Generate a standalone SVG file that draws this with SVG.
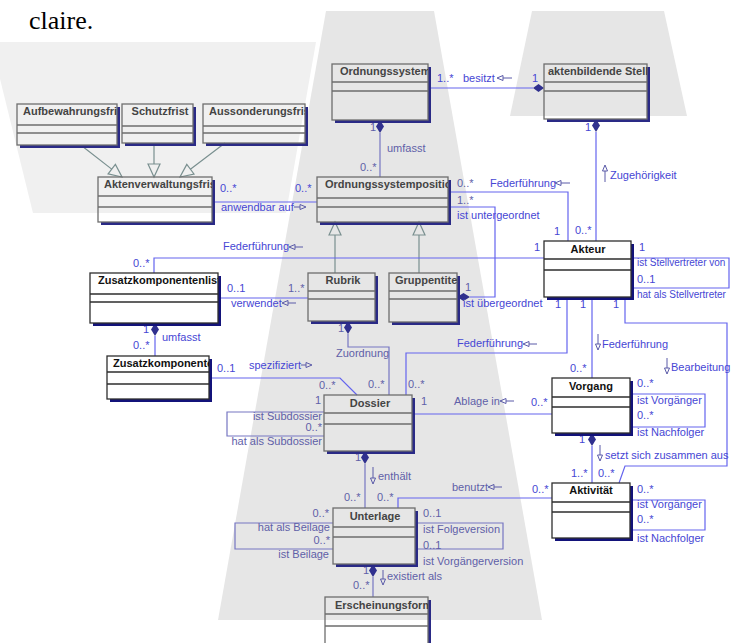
<svg xmlns="http://www.w3.org/2000/svg" width="731" height="643" viewBox="0 0 731 643">
<style>
.bx{fill:none;stroke:#2e2e2e;stroke-width:1.3}
.bx.d{stroke:#6e6e6e}
.sh{fill:#13137a}
.sh.d{fill:#2a2a86}
.hd{font:bold 11px "Liberation Sans",Arial,sans-serif;fill:#111}
.hd.d{fill:#444}
.ln{fill:none;stroke:#6464ee;stroke-width:1.2}
.ln.d{stroke:#7676c2}
.lb{font:11px "Liberation Sans",Arial,sans-serif;fill:#4646d4}
.lb.d{fill:#5f5fa8}
.lb.s{font-size:10px}
.dm{fill:#30308e}
.gn{fill:none;stroke:#7a9090;stroke-width:1.2}
.nv{fill:none;stroke:#5a5aa8;stroke-width:1}
</style>
<defs>
<clipPath id="c1"><rect x="17" y="104" width="100" height="41"/></clipPath>
<clipPath id="c3"><rect x="203" y="104" width="102" height="39"/></clipPath>
<clipPath id="c4"><rect x="98" y="177" width="114" height="45"/></clipPath>
<clipPath id="c5"><rect x="332" y="64" width="96" height="56"/></clipPath>
<clipPath id="c6"><rect x="544" y="64" width="103" height="55"/></clipPath>
<clipPath id="c7"><rect x="317" y="177" width="131" height="45"/></clipPath>
<clipPath id="c9"><rect x="90" y="273" width="128" height="50"/></clipPath>
<clipPath id="c11"><rect x="389" y="273" width="68" height="49"/></clipPath>
<clipPath id="c12"><rect x="107" y="356" width="102" height="43"/></clipPath>
<clipPath id="c17"><rect x="325" y="597" width="103" height="52"/></clipPath>
</defs>
<rect width="731" height="643" fill="#fff"/>
<g id="background">
<polygon points="-9,42 316,42 286,213 33,213" fill="#f0f0f0"/>
<polygon points="326,11 434,11 542,620 218,620" fill="#e6e6e6"/>
<polygon points="532,11 664,11 687,116 510,116" fill="#e6e6e6"/>
<text x="29" y="29" font-family="Liberation Serif, Times New Roman, serif" font-size="26" fill="#000">claire.</text>
</g>

<g id="connectors">
<path class="gn" d="M82,146 L111.7,169.1 M108.1,173.9 L122,177 L115.4,164.4 Z"/>
<path class="gn" d="M154,143 V164 M148,164 L154,177 L160,164 Z"/>
<path class="gn" d="M225,143 L190.4,169.2 M186.8,164.4 L180,177 L194,174 Z"/>
<path class="gn" d="M335,273 V235 M329,235 L335,222 L341,235 Z"/>
<path class="gn" d="M419,273 V235 M413,235 L419,222 L425,235 Z"/>

<path class="ln" d="M428,88 H533"/>
<path class="dm" d="M533,88 L538.5,84 L544,88 L538.5,92 Z"/>
<text class="lb" x="437" y="82">1..*</text>
<text class="lb" x="463" y="82">besitzt</text>
<path class="nv" d="M503,75.5 L497,78 L503,80.5 Z M503,78 H512"/>
<text class="lb" x="532" y="82">1</text>

<path class="ln d" d="M380,133 V177"/>
<path class="dm" d="M380,120 L384,126.5 L380,133 L376,126.5 Z"/>
<text class="lb d" x="370" y="131">1</text>
<text class="lb d" x="387" y="152">umfasst</text>
<text class="lb d" x="360" y="171">0..*</text>

<path class="ln" d="M596,132 V241"/>
<path class="dm" d="M596,119 L600,125.5 L596,132 L592,125.5 Z"/>
<text class="lb" x="585" y="131">1</text>
<path class="nv" d="M605,182 V171 M602.5,171 L605,165 L607.5,171 Z"/>
<text class="lb" x="610" y="179">Zugehörigkeit</text>
<text class="lb" x="575" y="234">0..*</text>

<path class="ln" d="M448,192 H568 V241"/>
<text class="lb d" x="457" y="187">0..*</text>
<text class="lb" x="490" y="187">Federführung</text>
<path class="nv" d="M561,180.5 L555,183 L561,185.5 Z M561,183 H570"/>
<text class="lb" x="554" y="235">1</text>

<path class="ln" d="M448,207 H495 V297 H470"/>
<path class="dm" d="M457,297 L463.5,293 L470,297 L463.5,301 Z"/>
<text class="lb d" x="457" y="204">1..*</text>
<text class="lb" x="457" y="219">ist untergeordnet</text>
<text class="lb d" x="465" y="291">1</text>
<text class="lb" x="463" y="307">ist übergeordnet</text>

<path class="ln" d="M212,202 H317"/>
<text class="lb" x="220" y="192">0..*</text>
<text class="lb" x="295" y="192">0..*</text>
<text class="lb" x="221" y="211">anwendbar auf</text>
<path class="nv" d="M294,207 H300 M300,204.5 L306,207 L300,209.5 Z"/>

<path class="ln" d="M154,273 V258 H544"/>
<text class="lb" x="133" y="267">0..*</text>
<text class="lb" x="223" y="250">Federführung</text>
<path class="nv" d="M295,244.5 L289,247 L295,249.5 Z M295,247 H303"/>
<text class="lb" x="534" y="251">1</text>

<path class="ln" d="M218,298 H308"/>
<text class="lb" x="227" y="292">0..1</text>
<text class="lb d" x="288" y="292">1..*</text>
<text class="lb" x="231" y="307">verwendet</text>
<path class="nv" d="M288,300.5 L282,303 L288,305.5 Z M288,303 H296"/>

<path class="ln" d="M155,336 V356"/>
<path class="dm" d="M155,323 L159,329.5 L155,336 L151,329.5 Z"/>
<text class="lb" x="143" y="333">1</text>
<text class="lb" x="162" y="341">umfasst</text>
<text class="lb" x="133" y="349">0..*</text>

<path class="ln" d="M209,378 H340 L357,395"/>
<text class="lb" x="217" y="372">0..1</text>
<text class="lb" x="249" y="369">spezifiziert</text>
<path class="nv" d="M301,365 H306 M306,362.5 L312,365 L306,367.5 Z"/>
<text class="lb d" x="319" y="389">0..*</text>

<path class="ln d" d="M348,334 V347 H389 V395"/>
<path class="dm" d="M348,321 L352,327.5 L348,334 L344,327.5 Z"/>
<text class="lb d" x="338" y="332">1</text>
<text class="lb d" x="336" y="357">Zuordnung</text>
<text class="lb d" x="368" y="388">0..*</text>

<path class="ln" d="M406,395 V353 H567 V297"/>
<text class="lb" x="457" y="347">Federführung</text>
<path class="nv" d="M529,341.5 L523,344 L529,346.5 Z M529,344 H537"/>
<text class="lb d" x="408" y="388">0..*</text>
<text class="lb" x="555" y="308">1</text>

<path class="ln" d="M592,297 V378"/>
<text class="lb" x="580" y="308">1</text>
<path class="nv" d="M598,334 V344 M595.5,344 L598,350 L600.5,344 Z"/>
<text class="lb" x="602" y="348">Federführung</text>
<text class="lb" x="570" y="372">0..*</text>

<path class="ln" d="M625,297 V323 H727 V466 H625 L619,483"/>
<text class="lb" x="613" y="308">1</text>
<path class="nv" d="M667,358 V368 M664.5,368 L667,374 L669.5,368 Z"/>
<text class="lb" x="671" y="371">Bearbeitung</text>
<text class="lb" x="598" y="477">0..*</text>

<path class="ln" d="M631,258 H729 V288 H631"/>
<text class="lb" x="639" y="251">1</text>
<text class="lb s" x="637" y="266">ist Stellvertreter von</text>
<text class="lb" x="637" y="283">0..1</text>
<text class="lb s" x="637" y="298">hat als Stellvertreter</text>

<path class="ln d" d="M324,412 H227 V436 H324"/>
<text class="lb d" x="315" y="404">1</text>
<text class="lb d" x="322" y="420" text-anchor="end">ist Subdossier</text>
<text class="lb d" x="322" y="431" text-anchor="end">0..*</text>
<text class="lb d" x="322" y="445" text-anchor="end">hat als Subdossier</text>

<path class="ln" d="M412,414 H552"/>
<text class="lb d" x="421" y="405">1</text>
<text class="lb d" x="454" y="405">Ablage in</text>
<path class="nv" d="M506,398.5 L500,401 L506,403.5 Z M506,401 H514"/>
<text class="lb" x="531" y="406">0..*</text>

<path class="ln" d="M630,394 H705 V427 H630"/>
<text class="lb" x="637" y="387">0..*</text>
<text class="lb" x="637" y="404">ist Vorgänger</text>
<text class="lb" x="637" y="419">0..*</text>
<text class="lb" x="637" y="436">ist Nachfolger</text>

<path class="ln" d="M592,446 V483"/>
<path class="dm" d="M592,433 L596,439.5 L592,446 L588,439.5 Z"/>
<text class="lb" x="579" y="443">1</text>
<path class="nv" d="M600,445 V455 M597.5,455 L600,461 L602.5,455 Z"/>
<text class="lb" x="605" y="459">setzt sich zusammen aus</text>
<text class="lb" x="571" y="477">1..*</text>

<path class="ln" d="M630,500 H705 V530 H630"/>
<text class="lb" x="637" y="493">0..*</text>
<text class="lb" x="637" y="508">ist Vorgänger</text>
<text class="lb" x="637" y="523">0..*</text>
<text class="lb" x="637" y="542">ist Nachfolger</text>

<path class="ln" d="M552,498 H398 V508"/>
<text class="lb d" x="452" y="491">benutzt</text>
<path class="nv" d="M494,484.5 L488,487 L494,489.5 Z M494,487 H502"/>
<text class="lb" x="532" y="493">0..*</text>
<text class="lb d" x="377" y="501">0..*</text>

<path class="ln d" d="M365,464 V508"/>
<path class="dm" d="M365,451 L369,457.5 L365,464 L361,457.5 Z"/>
<text class="lb d" x="355" y="461">1</text>
<path class="nv" d="M373,467 V478 M370.5,478 L373,484 L375.5,478 Z"/>
<text class="lb d" x="378" y="480">enthält</text>
<text class="lb d" x="344" y="501">0..*</text>

<path class="ln d" d="M333,523 H235 V549 H333"/>
<text class="lb d" x="329" y="517" text-anchor="end">0..*</text>
<text class="lb d" x="330" y="531" text-anchor="end">hat als Beilage</text>
<text class="lb d" x="330" y="544" text-anchor="end">0..*</text>
<text class="lb d" x="329" y="558" text-anchor="end">ist Beilage</text>

<path class="ln d" d="M415,523 H503 V549 H415"/>
<text class="lb d" x="423" y="517">0..1</text>
<text class="lb d" x="423" y="533">ist Folgeversion</text>
<text class="lb d" x="423" y="549">0..1</text>
<text class="lb d" x="423" y="565">ist Vorgängerversion</text>

<path class="ln d" d="M373,577 V597"/>
<path class="dm" d="M373,564 L377,570.5 L373,577 L369,570.5 Z"/>
<text class="lb d" x="363" y="574">1</text>
<path class="nv" d="M383,570 V579 M380.5,579 L383,585 L385.5,579 Z"/>
<text class="lb d" x="387" y="580">existiert als</text>
<text class="lb d" x="353" y="589">0..*</text>
</g>

<g id="n-aufbewahrungsfrist">
<path class="sh d" d="M117,107h3v41H20v-3H117Z"/>
<rect class="bx d" x="17" y="104" width="100" height="41"/>
<path class="bx d" d="M17,125H117M17,133H117"/>
<text class="hd d" x="23" y="115" clip-path="url(#c1)">Aufbewahrungsfrist</text>
</g>
<g id="n-schutzfrist">
<path class="sh d" d="M193,107h3v39H125v-3H193Z"/>
<rect class="bx d" x="122" y="104" width="71" height="39"/>
<path class="bx d" d="M122,126H193M122,133H193"/>
<text class="hd d" x="160" y="115" text-anchor="middle">Schutzfrist</text>
</g>
<g id="n-aussonderungsfrist">
<path class="sh d" d="M305,107h3v39H206v-3H305Z"/>
<rect class="bx d" x="203" y="104" width="102" height="39"/>
<path class="bx d" d="M203,126H305M203,133H305"/>
<text class="hd d" x="209" y="115" clip-path="url(#c3)">Aussonderungsfrist</text>
</g>
<g id="n-aktenverwaltungsfrist">
<path class="sh d" d="M212,180h3v45H101v-3H212Z"/>
<rect class="bx d" x="98" y="177" width="114" height="45"/>
<path class="bx d" d="M98,196H212M98,207H212"/>
<text class="hd d" x="104" y="188" clip-path="url(#c4)">Aktenverwaltungsfrist</text>
</g>
<g id="n-ordnungssystem">
<path class="sh d" d="M428,67h3v56H335v-3H428Z"/>
<rect class="bx d" x="332" y="64" width="96" height="56"/>
<path class="bx d" d="M332,82H428M332,91H428"/>
<text class="hd d" x="340" y="75" clip-path="url(#c5)">Ordnungssystem</text>
</g>
<g id="n-aktenbildende-stelle">
<path class="sh d" d="M647,67h3v55H547v-3H647Z"/>
<rect class="bx d" x="544" y="64" width="103" height="55"/>
<path class="bx d" d="M544,82H647M544,91H647"/>
<text class="hd d" x="548" y="75" clip-path="url(#c6)">aktenbildende Stelle</text>
</g>
<g id="n-ordnungssystemposition">
<path class="sh d" d="M448,180h3v45H320v-3H448Z"/>
<rect class="bx d" x="317" y="177" width="131" height="45"/>
<path class="bx d" d="M317,198H448M317,207H448"/>
<text class="hd d" x="325" y="188" clip-path="url(#c7)">Ordnungssystemposition</text>
</g>
<g id="n-akteur">
<path class="sh" d="M631,244h3v56H547v-3H631Z"/>
<rect class="bx" x="544" y="241" width="87" height="56"/>
<path class="bx" d="M544,259H631M544,270H631"/>
<text class="hd" x="588" y="253" text-anchor="middle">Akteur</text>
</g>
<g id="n-zusatzkomponentenliste">
<path class="sh" d="M218,276h3v50H93v-3H218Z"/>
<rect class="bx" x="90" y="273" width="128" height="50"/>
<path class="bx" d="M90,294H218M90,302H218"/>
<text class="hd" x="98" y="284" clip-path="url(#c9)">Zusatzkomponentenliste</text>
</g>
<g id="n-rubrik">
<path class="sh d" d="M375,276h3v48H311v-3H375Z"/>
<rect class="bx d" x="308" y="273" width="67" height="48"/>
<path class="bx d" d="M308,291H375M308,299H375"/>
<text class="hd d" x="343" y="284" text-anchor="middle">Rubrik</text>
</g>
<g id="n-gruppentitel">
<path class="sh d" d="M457,276h3v49H392v-3H457Z"/>
<rect class="bx d" x="389" y="273" width="68" height="49"/>
<path class="bx d" d="M389,291H457M389,299H457"/>
<text class="hd d" x="395" y="284" clip-path="url(#c11)">Gruppentitel</text>
</g>
<g id="n-zusatzkomponente">
<path class="sh" d="M209,359h3v43H110v-3H209Z"/>
<rect class="bx" x="107" y="356" width="102" height="43"/>
<path class="bx" d="M107,372H209M107,384H209"/>
<text class="hd" x="113" y="367" clip-path="url(#c12)">Zusatzkomponente</text>
</g>
<g id="n-dossier">
<path class="sh d" d="M412,398h3v56H327v-3H412Z"/>
<rect class="bx d" x="324" y="395" width="88" height="56"/>
<path class="bx d" d="M324,413H412M324,424H412"/>
<text class="hd d" x="370" y="407" text-anchor="middle">Dossier</text>
</g>
<g id="n-vorgang">
<path class="sh" d="M630,381h3v55H555v-3H630Z"/>
<rect class="bx" x="552" y="378" width="78" height="55"/>
<path class="bx" d="M552,397H630M552,407H630"/>
<text class="hd" x="591" y="390" text-anchor="middle">Vorgang</text>
</g>
<g id="n-aktivitaet">
<path class="sh" d="M630,486h3v55H555v-3H630Z"/>
<rect class="bx" x="552" y="483" width="78" height="55"/>
<path class="bx" d="M552,502H630M552,512H630"/>
<text class="hd" x="591" y="494" text-anchor="middle">Aktivität</text>
</g>
<g id="n-unterlage">
<path class="sh d" d="M415,511h3v56H336v-3H415Z"/>
<rect class="bx d" x="333" y="508" width="82" height="56"/>
<path class="bx d" d="M333,527H415M333,537H415"/>
<text class="hd d" x="375" y="520" text-anchor="middle">Unterlage</text>
</g>
<g id="n-erscheinungsform">
<path class="sh d" d="M428,600h3v52H328v-3H428Z"/>
<rect class="bx d" x="325" y="597" width="103" height="52"/>
<path class="bx d" d="M325,614H428M325,626H428"/>
<text class="hd d" x="335" y="609" clip-path="url(#c17)">Erscheinungsform</text>
</g>
</svg>
